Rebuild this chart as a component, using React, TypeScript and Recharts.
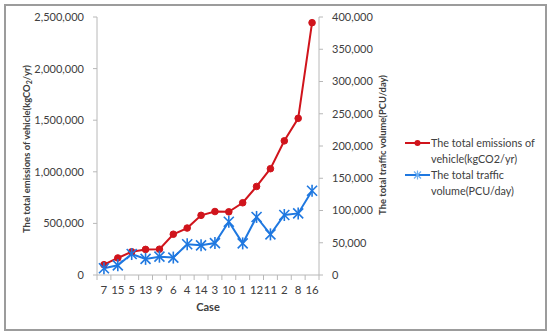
import React from 'react';
import { LineChart, Line, XAxis, YAxis, Legend } from 'recharts';

const cases = ['7', '15', '5', '13', '9', '6', '4', '14', '3', '10', '1', '12', '11', '2', '8', '16'];
const emissions = [100000, 165000, 225000, 248000, 250000, 395000, 455000, 578000, 615000, 612000, 700000, 858000, 1030000, 1300000, 1518000, 2445000];
const traffic = [10500, 15000, 32500, 25000, 28400, 27000, 47600, 46000, 49500, 82500, 49000, 90000, 63000, 93000, 95500, 130700];
const leftTicks = [0, 500000, 1000000, 1500000, 2000000, 2500000];
const rightTicks = [0, 50000, 100000, 150000, 200000, 250000, 300000, 350000, 400000];

const W = 550;
const H = 334;
const LEFT_AXIS_W = 97;
const RIGHT_AXIS_W = 80;
const MARGIN = { top: 17, right: 151, bottom: 19, left: 0 };
const X_AXIS_H = 40;
const PLOT_LEFT = MARGIN.left + LEFT_AXIS_W;
const PLOT_RIGHT = W - MARGIN.right - RIGHT_AXIS_W;
const PLOT_BOTTOM = H - MARGIN.bottom - X_AXIS_H;
const BAND = (PLOT_RIGHT - PLOT_LEFT) / cases.length;

const RED = '#d0141c';
const BLUE = '#1f78e0';
const AXIS = '#b8b8b8';
const TEXT = '#404040';
const FONT = 'Lato, "DejaVu Sans", sans-serif';
const TICK_FS = 11;
const TITLE_FS = 9.4;

const data = cases.map((c, i) => ({ case: c, emissions: emissions[i], traffic: traffic[i] }));

const fmt = (v: number) => v.toLocaleString('en-US');

const CaseTick = (props: any) => {
  const { x, payload, index } = props;
  const half = BAND / 2;
  return (
    <g>
      <line x1={x - half} y1={PLOT_BOTTOM} x2={x - half} y2={PLOT_BOTTOM + 5} stroke={AXIS} />
      {index === cases.length - 1 && (
        <line x1={x + half} y1={PLOT_BOTTOM} x2={x + half} y2={PLOT_BOTTOM + 5} stroke={AXIS} />
      )}
      <text x={x} y={PLOT_BOTTOM + 19} textAnchor="middle" fill={TEXT} fontSize={11.5} fontFamily={FONT}>
        {payload.value}
      </text>
    </g>
  );
};

const StarDot = (props: any) => {
  const { cx, cy, stroke } = props;
  if (cx == null || cy == null) return null;
  const s = 5;
  return (
    <g stroke={stroke} strokeWidth={1.6}>
      <line x1={cx - s} y1={cy - s} x2={cx + s} y2={cy + s} />
      <line x1={cx - s} y1={cy + s} x2={cx + s} y2={cy - s} />
      <line x1={cx} y1={cy - s - 1} x2={cx} y2={cy + s + 1} />
    </g>
  );
};

const wrap = (s: string, max: number) => {
  const words = s.split(' ');
  const lines: string[] = [];
  let cur = '';
  words.forEach((w) => {
    const t = cur ? cur + ' ' + w : w;
    if (t.length > max && cur) {
      lines.push(cur);
      cur = w;
    } else cur = t;
  });
  if (cur) lines.push(cur);
  return lines;
};

const LegendContent = (props: any) => {
  const { payload } = props;
  return (
    <svg width={145} height={72} style={{ overflow: 'visible' }}>
      {(payload || []).map((p: any, i: number) => {
        const y = 10 + i * 32;
        const lines = wrap(p.value, 22);
        return (
          <g key={i}>
            <line x1={2} y1={y} x2={27} y2={y} stroke={p.color} strokeWidth={2} />
            {i === 0 ? (
              <circle cx={14.5} cy={y} r={3} fill={p.color} />
            ) : (
              <g stroke="#6fb0f0" strokeWidth={1.2}>
                <line x1={11} y1={y - 3.5} x2={18} y2={y + 3.5} />
                <line x1={11} y1={y + 3.5} x2={18} y2={y - 3.5} />
                <line x1={14.5} y1={y - 4.5} x2={14.5} y2={y + 4.5} />
              </g>
            )}
            {lines.map((l, j) => (
              <text key={j} x={28} y={y + 4 + j * 16} fill={TEXT} fontSize={10.8} fontFamily={FONT}>
                {l}
              </text>
            ))}
          </g>
        );
      })}
    </svg>
  );
};

const LeftTitle = () => {
  const cx = 26;
  const cy = 149;
  return (
    <text
      x={cx}
      y={cy}
      transform={`rotate(-90 ${cx} ${cy})`}
      textAnchor="middle"
      dominantBaseline="central"
      fill={TEXT}
      fontSize={TITLE_FS}
      fontWeight="bold"
      fontFamily={FONT}
    >
      The total emissions of vehicle(kgCO<tspan dy={3} fontSize={7}>2</tspan>
      <tspan dy={-3}>/yr)</tspan>
    </text>
  );
};

const RightTitle = () => {
  const cx = 382;
  const cy = 145;
  return (
    <text
      x={cx}
      y={cy}
      transform={`rotate(-90 ${cx} ${cy})`}
      textAnchor="middle"
      dominantBaseline="central"
      fill={TEXT}
      fontSize={TITLE_FS}
      fontWeight="bold"
      fontFamily={FONT}
    >
      The total traffic volume(PCU/day)
    </text>
  );
};

const CaseLabel = () => (
  <text x={(PLOT_LEFT + PLOT_RIGHT) / 2} y={311} textAnchor="middle" fill={TEXT} fontSize={11} fontWeight="bold" fontFamily={FONT}>
    Case
  </text>
);

export default function App() {
  return (
    <div style={{ position: 'absolute', left: 0, top: 0, width: W, height: H, background: '#fff' }}>
      <LineChart width={W} height={H} data={data} margin={MARGIN}>
        <XAxis
          dataKey="case"
          height={X_AXIS_H}
          padding={{ left: BAND / 2, right: BAND / 2 }}
          stroke={AXIS}
          tickLine={false}
          tick={<CaseTick />}
          interval={0}
          label={<CaseLabel />}
        />
        <YAxis
          yAxisId="left"
          width={LEFT_AXIS_W}
          domain={[0, 2500000]}
          ticks={leftTicks}
          tickFormatter={fmt}
          stroke={AXIS}
          tickSize={4}
          tickMargin={9}
          tick={{ fill: TEXT, fontSize: TICK_FS, fontFamily: FONT }}
          label={<LeftTitle />}
        />
        <YAxis
          yAxisId="right"
          orientation="right"
          width={RIGHT_AXIS_W}
          domain={[0, 400000]}
          ticks={rightTicks}
          tickFormatter={fmt}
          stroke={AXIS}
          tickSize={4}
          tickMargin={9}
          tick={{ fill: TEXT, fontSize: TICK_FS, fontFamily: FONT, textAnchor: 'start' }}
          label={<RightTitle />}
        />
        <Legend
          layout="vertical"
          align="center"
          verticalAlign="middle"
          content={<LegendContent />}
          wrapperStyle={{ position: 'absolute', left: 403, top: 133, width: 145, height: 72 }}
        />
        <Line
          yAxisId="left"
          type="linear"
          dataKey="emissions"
          name="The total emissions of vehicle(kgCO2/yr)"
          stroke={RED}
          strokeWidth={2}
          dot={{ r: 3.3, fill: RED, stroke: RED, strokeWidth: 1 }}
          isAnimationActive={false}
        />
        <Line
          yAxisId="right"
          type="linear"
          dataKey="traffic"
          name="The total traffic volume(PCU/day)"
          stroke={BLUE}
          strokeWidth={2}
          dot={<StarDot />}
          isAnimationActive={false}
        />
      </LineChart>
      <div
        style={{
          position: 'absolute',
          left: 4,
          top: 4,
          width: 539,
          height: 323,
          border: '2px solid #9c9c9c',
          pointerEvents: 'none',
        }}
      />
    </div>
  );
}
